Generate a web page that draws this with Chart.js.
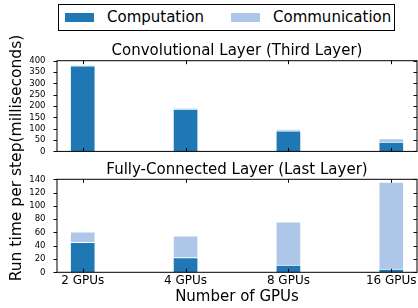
<!DOCTYPE html>
<html>
<head>
<meta charset="utf-8">
<script src="https://cdn.jsdelivr.net/npm/chart.js@4"></script>
<style>
  body { margin: 0; background: #fff; font-family: "DejaVu Sans", sans-serif; }
  #wrap { position: relative; width: 418px; height: 308px; overflow: hidden; }
  canvas { position: absolute; left: 0; }
  #legend { position: absolute; left: 58px; top: 4px; width: 335px; height: 25px; border: 1px solid #000; background: #fff; }
  .patch { position: absolute; top: 8px; width: 29px; height: 9px; }
  .lbl { position: absolute; top: 0; line-height: 25px; font-size: 15px; color: #000; white-space: nowrap; }
  #ylabel { position: absolute; left: -114px; top: 148px; width: 260px; height: 20px; line-height: 20px;
            text-align: center; font-size: 15.5px; transform: rotate(-90deg); white-space: nowrap; }
</style>
</head>
<body>
<div id="wrap">
  <div id="legend">
    <div class="patch" style="left:6px;background:#1f77b4"></div>
    <div class="lbl" style="left:48px">Computation</div>
    <div class="patch" style="left:172px;background:#aec7e8"></div>
    <div class="lbl" style="left:214px">Communication</div>
  </div>
  <canvas id="convChart" width="418" height="120" style="top:40px"></canvas>
  <canvas id="fcChart" width="418" height="148" style="top:160px"></canvas>
  <div id="ylabel">Run time per step(milliseconds)</div>
</div>
<script>
// GPU counts on the x axis
const gpuLabels = ['2 GPUs', '4 GPUs', '8 GPUs', '16 GPUs'];
const gpuPositions = [0, 1, 2, 3];

// Convolutional layer (third layer), ms per step
const convComputation = [377, 187, 91, 41];
const convCommunication = [1, 2, 7, 16];
const convYTicks = [0, 50, 100, 150, 200, 250, 300, 350, 400];

// Fully-connected layer (last layer), ms per step
const fcComputation = [45, 22, 11, 5];
const fcCommunication = [16, 33, 65, 131];
const fcYTicks = [0, 20, 40, 60, 80, 100, 120, 140];

Chart.defaults.font.family = '"DejaVu Sans", sans-serif';
Chart.defaults.color = '#000';

// matplotlib-style frame with ticks on all four sides
const frameTicks = {
    id: 'frameTicks',
    afterDraw(chart) {
        const { ctx, chartArea: a, scales: { x, y } } = chart;
        const len = 3.5;
        ctx.save();
        ctx.strokeStyle = '#000';
        ctx.lineWidth = 1;
        ctx.strokeRect(a.left, a.top, a.right - a.left, a.bottom - a.top);
        ctx.beginPath();
        y.ticks.forEach(t => {
            const py = Math.round(y.getPixelForValue(t.value)) + 0.5;
            ctx.moveTo(a.left - len, py); ctx.lineTo(a.left, py);
            ctx.moveTo(a.right - len, py); ctx.lineTo(a.right, py);
        });
        x.ticks.forEach(t => {
            const px = Math.round(x.getPixelForValue(t.value)) + 0.5;
            ctx.moveTo(px, a.top); ctx.lineTo(px, a.top + len);
            ctx.moveTo(px, a.bottom); ctx.lineTo(px, a.bottom - len);
        });
        ctx.stroke();
        ctx.restore();
    }
};

function makeChart(id, comp, comm, yTicks, title, titlePad, showX) {
    const toPoints = vals => vals.map((v, i) => ({ x: gpuPositions[i], y: v }));
    return new Chart(document.getElementById(id), {
        type: 'bar',
        data: {
            datasets: [
                { label: 'Computation', data: toPoints(comp), backgroundColor: '#1f77b4',
                  borderColor: '#fff', borderWidth: 1, barThickness: 25 },
                { label: 'Communication', data: toPoints(comm), backgroundColor: '#aec7e8',
                  borderColor: '#fff', borderWidth: 1, barThickness: 25 }
            ]
        },
        options: {
            responsive: false,
            animation: false,
            devicePixelRatio: 1,
            layout: { padding: { left: 0, right: 1, top: 0, bottom: 0 } },
            plugins: {
                legend: { display: false },
                tooltip: { enabled: false },
                title: { display: true, text: title, color: '#000', fullSize: false,
                         font: { size: 15, weight: 'normal' }, padding: titlePad }
            },
            scales: {
                x: {
                    type: 'linear', min: -0.25, max: 3.25, stacked: true, offset: false,
                    grid: { display: false }, border: { display: false },
                    afterBuildTicks: s => { s.ticks = gpuPositions.map(v => ({ value: v })); },
                    ticks: { display: showX, autoSkip: false, maxRotation: 0, padding: -7,
                             font: { size: 12 }, callback: v => gpuLabels[gpuPositions.indexOf(v)] },
                    title: { display: showX, text: 'Number of GPUs', font: { size: 15 },
                             padding: { top: 0, bottom: 2 } },
                    afterFit: s => { s.height = showX ? 35.7 : 6.7; }
                },
                y: {
                    stacked: true, min: yTicks[0], max: yTicks[yTicks.length - 1],
                    grid: { display: false }, border: { display: false },
                    afterBuildTicks: s => { s.ticks = yTicks.map(v => ({ value: v })); },
                    ticks: { padding: 3.5, autoSkip: false, font: { size: 8.5 } },
                    afterFit: s => { s.width = 57; }
                }
            }
        },
        plugins: [frameTicks]
    });
}

makeChart('convChart', convComputation, convCommunication, convYTicks,
    'Convolutional Layer (Third Layer)', { top: 2, bottom: 0.7 }, false);
makeChart('fcChart', fcComputation, fcCommunication, fcYTicks,
    'Fully-Connected Layer (Last Layer)', { top: 1.3, bottom: 0 }, true);
</script>
</body>
</html>
